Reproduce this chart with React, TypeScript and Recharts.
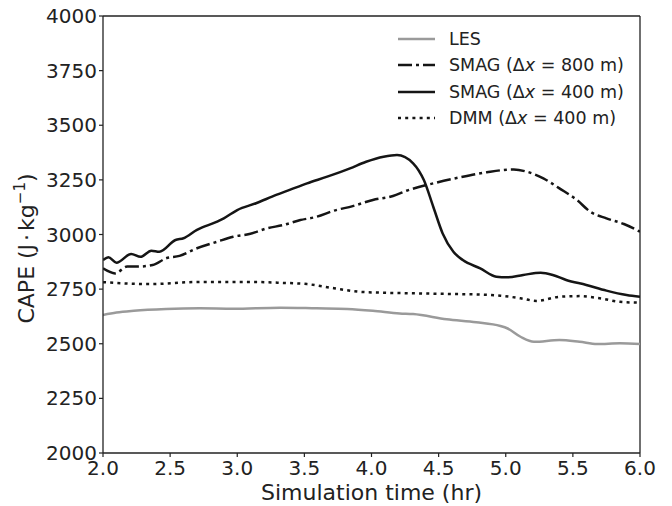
import { LineChart, Line, XAxis, YAxis, ReferenceLine } from "recharts";

// times (hr) and CAPE (J/kg) per run
const LES_TIME = [2.0, 2.1, 2.23, 2.47, 2.72, 2.97, 3.32, 3.59, 3.82, 4.01, 4.21, 4.31, 4.56, 4.78, 4.96, 5.01, 5.11, 5.21, 5.4, 5.55, 5.68, 5.85, 6.0];
const LES_CAPE = [2632, 2643, 2651, 2659, 2662, 2660, 2665, 2662, 2659, 2651, 2639, 2636, 2612, 2598, 2581, 2571, 2532, 2509, 2517, 2509, 2499, 2502, 2499];

const SMAG800_TIME = [2.0, 2.09, 2.18, 2.25, 2.37, 2.47, 2.57, 2.7, 2.85, 2.97, 3.09, 3.22, 3.34, 3.47, 3.59, 3.72, 3.86, 4.01, 4.16, 4.26, 4.46, 4.66, 4.86, 5.06, 5.16, 5.28, 5.4, 5.53, 5.63, 5.75, 5.88, 6.0];
const SMAG800_CAPE = [2845, 2822, 2853, 2853, 2860, 2891, 2902, 2937, 2967, 2990, 3002, 3028, 3043, 3066, 3081, 3109, 3130, 3158, 3176, 3200, 3234, 3262, 3285, 3298, 3287, 3257, 3211, 3158, 3104, 3074, 3048, 3013];

const SMAG400_TIME = [2.0, 2.04, 2.1, 2.21, 2.28, 2.36, 2.42, 2.54, 2.6, 2.7, 2.85, 2.9, 3.0, 3.14, 3.29, 3.39, 3.52, 3.67, 3.84, 3.96, 4.09, 4.19, 4.31, 4.39, 4.46, 4.53, 4.61, 4.68, 4.81, 4.93, 5.01, 5.13, 5.26, 5.35, 5.45, 5.6, 5.75, 5.9, 6.0];
const SMAG400_CAPE = [2883, 2896, 2871, 2911, 2898, 2926, 2921, 2975, 2983, 3021, 3059, 3074, 3112, 3143, 3181, 3204, 3234, 3265, 3303, 3333, 3356, 3364, 3326, 3249, 3127, 3005, 2921, 2883, 2845, 2807, 2804, 2815, 2825, 2815, 2792, 2769, 2743, 2723, 2715];

const DMM_TIME = [2.0, 2.35, 2.72, 3.09, 3.32, 3.52, 3.72, 3.91, 4.06, 4.31, 4.56, 4.81, 4.96, 5.11, 5.23, 5.4, 5.55, 5.7, 5.85, 6.0];
const DMM_CAPE = [2782, 2773, 2783, 2783, 2779, 2773, 2754, 2738, 2734, 2731, 2728, 2725, 2720, 2708, 2696, 2715, 2718, 2708, 2692, 2688];

const X_TICKS = [2.0, 2.5, 3.0, 3.5, 4.0, 4.5, 5.0, 5.5, 6.0];
const Y_TICKS = [2000, 2250, 2500, 2750, 3000, 3250, 3500, 3750, 4000];

const toPoints = (ts: number[], vs: number[]) => ts.map((t, i) => ({ t, v: vs[i] }));

const FONT = "DejaVu Sans";
const INK = "#222222";

const SERIES = [
	{ key: "les", name: "LES", data: toPoints(LES_TIME, LES_CAPE), color: "#9a9a9a", dash: undefined },
	{ key: "smag800", name: "SMAG (Δx = 800 m)", data: toPoints(SMAG800_TIME, SMAG800_CAPE), color: "#151515", dash: "14 4 3 4" },
	{ key: "smag400", name: "SMAG (Δx = 400 m)", data: toPoints(SMAG400_TIME, SMAG400_CAPE), color: "#151515", dash: undefined },
	{ key: "dmm", name: "DMM (Δx = 400 m)", data: toPoints(DMM_TIME, DMM_CAPE), color: "#151515", dash: "3 4.2" },
];

function LegendLabel({ name }: { name: string }) {
	// italic x inside "Δx"
	const parts = name.split("Δx");
	if (parts.length === 1) return <span>{name}</span>;
	return (
		<span>
			{parts[0]}Δ<i>x</i>{parts[1]}
		</span>
	);
}

const renderYLabel = (props: any) => {
	const vb = props.viewBox || {};
	const cx = 34;
	const cy = (vb.y ?? 16) + (vb.height ?? 437) / 2 + 14;
	return (
		<text
			x={cx}
			y={cy}
			transform={`rotate(-90, ${cx}, ${cy})`}
			textAnchor="middle"
			fontFamily={FONT}
			fontSize={22}
			fill={INK}
		>
			<tspan>CAPE (J</tspan>
			<tspan dx={3}>·</tspan>
			<tspan dx={3}>kg</tspan>
			<tspan dy={-9} fontSize={15}>−1</tspan>
			<tspan dy={9} fontSize={22}>)</tspan>
		</text>
	);
};

const renderXLabel = (props: any) => {
	const vb = props.viewBox || {};
	return (
		<text
			x={vb.x + vb.width / 2}
			y={vb.y + 47}
			textAnchor="middle"
			fontFamily={FONT}
			fontSize={22}
			fill={INK}
		>
			Simulation time (hr)
		</text>
	);
};

export default function App() {
	return (
		<div style={{ position: "relative", width: 672, height: 506, background: "#fff" }}>
			<style>{`body{margin:0}`}</style>
			<LineChart width={672} height={506} margin={{ top: 16, right: 32, bottom: 0, left: 0 }}>
				<XAxis
					dataKey="t"
					type="number"
					domain={[2, 6]}
					ticks={X_TICKS}
					tickFormatter={(v: number) => v.toFixed(1)}
					height={53}
					tickSize={4}
					tickMargin={4}
					axisLine={{ stroke: INK, strokeWidth: 1.3 }}
					tickLine={{ stroke: INK, strokeWidth: 1.2 }}
					tick={{ fill: INK, fontSize: 20, fontFamily: FONT }}
					label={{ content: renderXLabel }}
					allowDataOverflow
				/>
				<YAxis
					type="number"
					domain={[2000, 4000]}
					ticks={Y_TICKS}
					width={103}
					tickSize={4}
					tickMargin={2}
					axisLine={{ stroke: INK, strokeWidth: 1.3 }}
					tickLine={{ stroke: INK, strokeWidth: 1.2 }}
					tick={{ fill: INK, fontSize: 20, fontFamily: FONT }}
					label={{ content: renderYLabel }}
					allowDataOverflow
				/>
				{/* top and right spines */}
				<ReferenceLine y={4000} stroke={INK} strokeWidth={1.3} />
				<ReferenceLine x={6} stroke={INK} strokeWidth={1.3} />
				{SERIES.map((s) => (
					<Line
						key={s.key}
						data={s.data}
						dataKey="v"
						type="monotone"
						stroke={s.color}
						strokeWidth={2.5}
						strokeDasharray={s.dash}
						dot={false}
						activeDot={false}
						isAnimationActive={false}
					/>
				))}
			</LineChart>

			{/* Legend */}
			<div style={{ position: "absolute", left: 396, top: 26, fontFamily: FONT, fontSize: 17.5, color: INK }}>
				{SERIES.map((s) => (
					<div key={s.key} style={{ display: "flex", alignItems: "center", height: 26.3, whiteSpace: "nowrap" }}>
						<svg width={42} height={10} style={{ marginRight: 11 }}>
							<line x1={2} y1={5} x2={39} y2={5} stroke={s.color} strokeWidth={2.5} strokeDasharray={s.dash} />
						</svg>
						<LegendLabel name={s.name} />
					</div>
				))}
			</div>
		</div>
	);
}
